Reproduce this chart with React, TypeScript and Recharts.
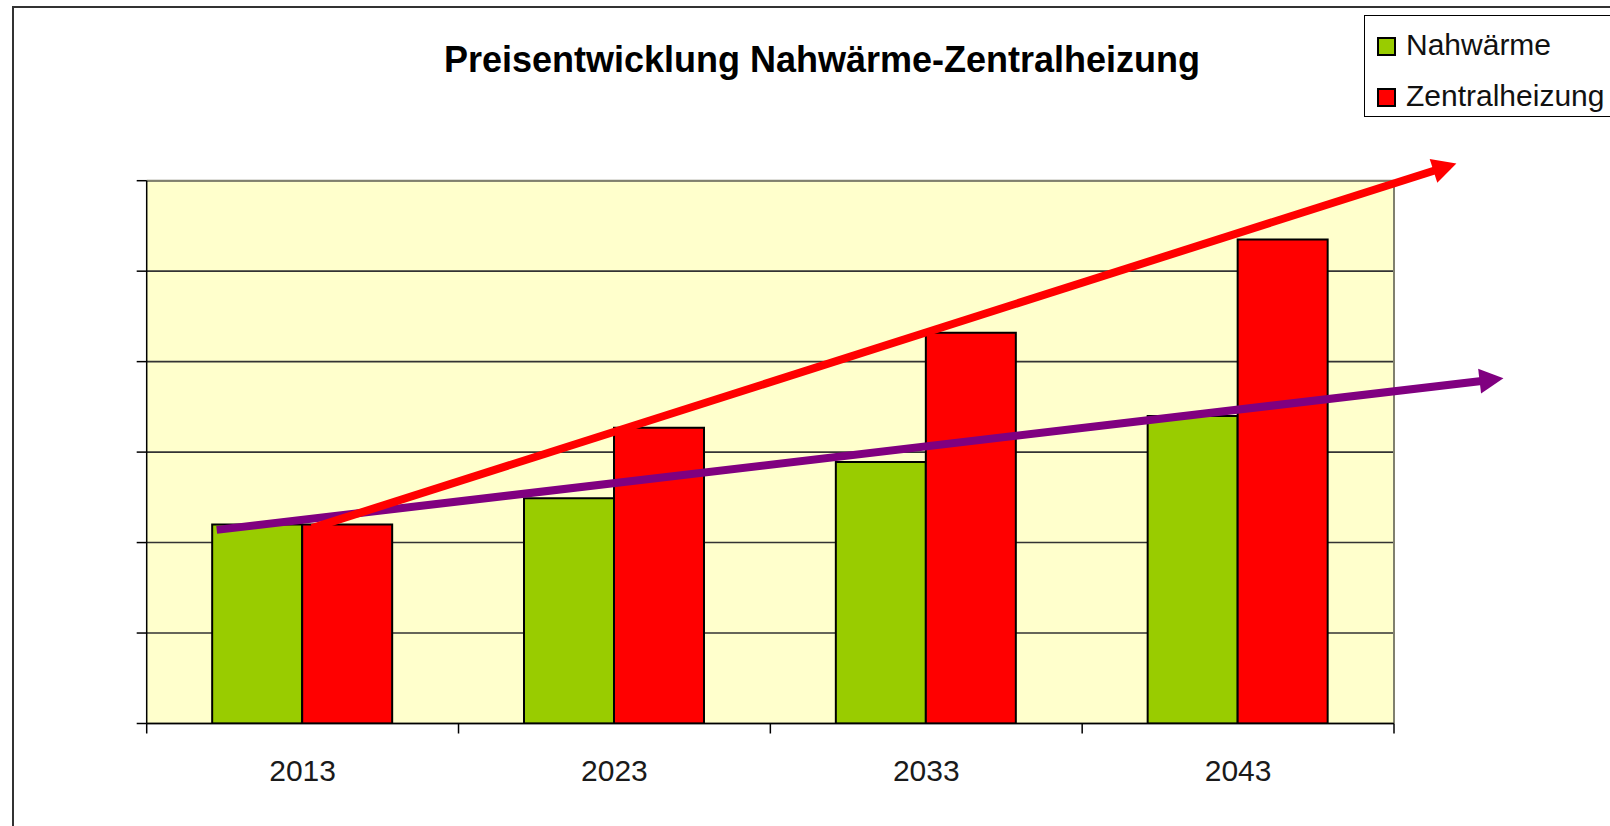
import React from "react";
import { ComposedChart, Bar, XAxis, YAxis, CartesianGrid, ReferenceLine } from "recharts";

const years = ["2013", "2023", "2033", "2043"];
const nahwaerme = [2.2, 2.49, 2.89, 3.4];
const zentralheizung = [2.2, 3.27, 4.32, 5.35];
const seriesNames = ["Nahwärme", "Zentralheizung"];
const seriesKeys = ["nahwaerme", "zentralheizung"];
const seriesColors = ["#99CC00", "#FF0000"];
const yTicks = [0, 1, 2, 3, 4, 5, 6];
const xTickPositions = [0, 0.5, 1, 1.5, 2, 2.5, 3, 3.5, 4];
const purpleTrend = [{ x: 0.2245, y: 2.14 }, { x: 4.351, y: 3.815 }];
const redTrend = [{ x: 0.53, y: 2.16 }, { x: 4.2, y: 6.19 }];
const title = "Preisentwicklung Nahwärme-Zentralheizung";

const data = years.map((year, i) => ({
  year,
  nahwaerme: nahwaerme[i],
  zentralheizung: zentralheizung[i],
}));

const FONT = "'Liberation Sans', Arial, sans-serif";

const XTick = (props: any) => {
  const { x, y, payload } = props;
  const v = payload.value;
  if (Number.isInteger(v)) {
    return <line x1={x} x2={x} y1={y} y2={y + 10} stroke="#000" strokeWidth={1.5} />;
  }
  const idx = Math.floor(v);
  return (
    <text x={x} y={y + 57} textAnchor="middle" fontSize={30} fill="#1a1a1a" fontFamily={FONT}>
      {years[idx]}
    </text>
  );
};

const arrowShape = (color: string, width: number, headLen: number, headW: number) => (p: any) => {
  const { x1, y1, x2, y2 } = p;
  if ([x1, y1, x2, y2].some((v) => typeof v !== "number" || isNaN(v))) return <g />;
  const dx = x2 - x1;
  const dy = y2 - y1;
  const L = Math.hypot(dx, dy);
  const ux = dx / L;
  const uy = dy / L;
  const bx = x2 - ux * headLen;
  const by = y2 - uy * headLen;
  const nx = -uy;
  const ny = ux;
  return (
    <g>
      <line x1={x1} y1={y1} x2={bx + ux * 2} y2={by + uy * 2} stroke={color} strokeWidth={width} />
      <polygon
        points={`${x2},${y2} ${bx + (nx * headW) / 2},${by + (ny * headW) / 2} ${bx - (nx * headW) / 2},${by - (ny * headW) / 2}`}
        fill={color}
      />
    </g>
  );
};

export default function App() {
  return (
    <div
      style={{
        position: "absolute",
        left: 0,
        top: 0,
        width: 1610,
        height: 826,
        overflow: "hidden",
        background: "#fff",
        fontFamily: FONT,
      }}
    >
      <div
        style={{
          position: "absolute",
          left: 12,
          top: 6,
          width: 1700,
          height: 900,
          border: "2px solid #333",
        }}
      />
      <div
        style={{
          position: "absolute",
          left: 322,
          top: 41.5,
          width: 1000,
          textAlign: "center",
          fontSize: 36,
          lineHeight: "36px",
          fontWeight: "bold",
          color: "#000",
          whiteSpace: "nowrap",
        }}
      >
        {title}
      </div>
      <div style={{ position: "absolute", left: 0, top: 0 }}>
        <ComposedChart
          width={1610}
          height={826}
          data={data}
          margin={{ top: 180.7, right: 216, bottom: 42.5, left: 86.7 }}
          barCategoryGap="21%"
          barGap={0}
        >
          <XAxis
            xAxisId="num"
            dataKey="trendPosition"
            type="number"
            domain={[0, 4]}
            ticks={xTickPositions}
            allowDataOverflow
            interval={0}
            height={60}
            tickLine={false}
            tickSize={0}
            tickMargin={0}
            tick={<XTick />}
            axisLine={{ stroke: "#000", strokeWidth: 1.5 }}
          />
          <XAxis xAxisId="cat" dataKey="year" hide height={0} />
          <YAxis
            type="number"
            domain={[0, 6]}
            ticks={yTicks}
            interval={0}
            allowDataOverflow
            width={60}
            tickSize={10}
            tickFormatter={() => ""}
            tickLine={{ stroke: "#000", strokeWidth: 1.5 }}
            axisLine={{ stroke: "#000", strokeWidth: 1.5 }}
          />
          <CartesianGrid
            xAxisId="num"
            vertical={false}
            fill="#FFFFCC"
            fillOpacity={1}
            stroke="#333"
            strokeWidth={1.6}
          />
          <ReferenceLine xAxisId="num" y={6} stroke="#80806e" strokeWidth={2} ifOverflow="visible" />
          <ReferenceLine xAxisId="num" x={4} stroke="#80806e" strokeWidth={2} ifOverflow="visible" />
          {seriesKeys.map((k, i) => (
            <Bar
              key={k}
              xAxisId="cat"
              dataKey={k}
              name={seriesNames[i]}
              fill={seriesColors[i]}
              stroke="#000"
              strokeWidth={2}
              isAnimationActive={false}
            />
          ))}
          <ReferenceLine
            xAxisId="num"
            segment={purpleTrend}
            ifOverflow="visible"
            stroke="#800080"
            shape={arrowShape("#800080", 8, 24, 25)}
          />
          <ReferenceLine
            xAxisId="num"
            segment={redTrend}
            ifOverflow="visible"
            stroke="#FF0000"
            shape={arrowShape("#FF0000", 8, 24, 25)}
          />
        </ComposedChart>
      </div>
      <div
        style={{
          position: "absolute",
          left: 1364,
          top: 15,
          width: 300,
          height: 100,
          border: "1.5px solid #000",
          background: "#fff",
        }}
      />
      {seriesNames.map((name, i) => (
        <React.Fragment key={name}>
          <div
            style={{
              position: "absolute",
              left: 1377,
              top: 37 + i * 51,
              width: 15,
              height: 15,
              background: seriesColors[i],
              border: "2px solid #000",
            }}
          />
          <div
            style={{
              position: "absolute",
              left: 1406,
              top: 29.6 + i * 51.7,
              fontSize: 30,
              lineHeight: "30px",
              color: "#111",
              whiteSpace: "nowrap",
            }}
          >
            {name}
          </div>
        </React.Fragment>
      ))}
    </div>
  );
}
